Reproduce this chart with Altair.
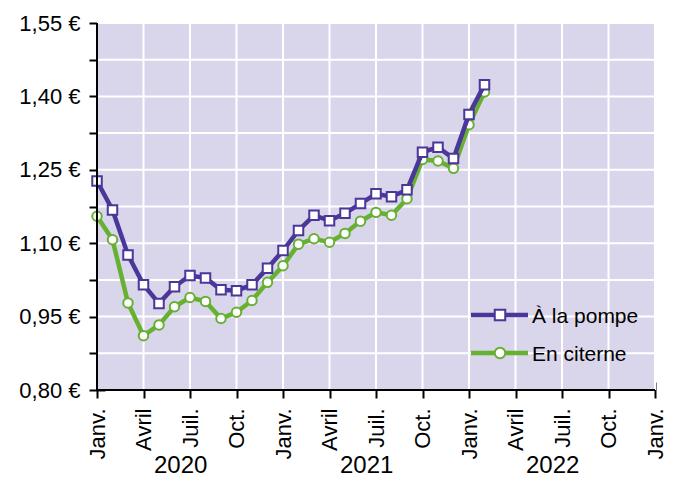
import altair as alt
import pandas as pd

# ---- data ----
dates = ["2020-01", "2020-02", "2020-03", "2020-04", "2020-05", "2020-06",
         "2020-07", "2020-08", "2020-09", "2020-10", "2020-11", "2020-12",
         "2021-01", "2021-02", "2021-03", "2021-04", "2021-05", "2021-06",
         "2021-07", "2021-08", "2021-09", "2021-10", "2021-11", "2021-12",
         "2022-01", "2022-02"]
pompe = [1.227, 1.168, 1.076, 1.015, 0.977, 1.011, 1.034, 1.029, 1.005, 1.003,
         1.015, 1.049, 1.085, 1.126, 1.157, 1.146, 1.161, 1.181, 1.201, 1.195,
         1.209, 1.286, 1.296, 1.273, 1.363, 1.424]
citerne = [1.155, 1.107, 0.978, 0.911, 0.933, 0.970, 0.989, 0.981, 0.946, 0.959,
           0.983, 1.020, 1.054, 1.098, 1.109, 1.102, 1.120, 1.145, 1.163, 1.157,
           1.191, 1.271, 1.268, 1.253, 1.342, 1.409]
series_names = ["À la pompe", "En citerne"]
month_labels = ["Janv.", "", "", "Avril", "", "", "Juil.", "", "", "Oct.", "", ""]
years = ["2020", "2021", "2022"]
x_ticks = list(range(0, 37, 3))
y_ticks = [0.80, 0.875, 0.95, 1.025, 1.10, 1.175, 1.25, 1.325, 1.40, 1.475, 1.55]

# ---- style ----
W, H = 558, 367
PURPLE = "#4b3699"
GREEN = "#66b032"
BG = "#d9d5ea"
FONT = "Liberation Sans"


def month_index(d):
    y, m = d.split("-")
    return (int(y) - 2020) * 12 + int(m) - 1


m_idx = [month_index(d) for d in dates]
df_p = pd.DataFrame({"m": m_idx, "v": pompe})
df_c = pd.DataFrame({"m": m_idx, "v": citerne})

x_scale = alt.Scale(domain=[0, 36], nice=False, zero=False)
y_scale = alt.Scale(domain=[0.80, 1.55], nice=False, zero=False)

label_js = "[" + ",".join("'%s'" % s for s in month_labels) + "]"
x_axis = alt.Axis(
    values=x_ticks, title=None, grid=False, domain=False,
    labelExpr=label_js + "[datum.value % 12]",
    labelAngle=270, labelFontSize=22, labelColor="black", labelFont=FONT,
    tickSize=16, tickWidth=2, tickColor="black", offset=-8, labelPadding=10,
    labelOverlap=False, labelFlush=False, labelBound=False,
)
y_axis = alt.Axis(
    values=y_ticks, title=None, grid=False, domain=False,
    labelExpr="round((datum.value - 0.8) / 0.075) % 2 == 0 ? replace(format(datum.value, '.2f'), '.', ',') + ' €' : ''",
    labelFontSize=22, labelColor="black", labelFont=FONT,
    tickSize=16, tickWidth=2, tickColor="black", offset=-8, labelPadding=9,
    labelOverlap=False, labelFlush=False, labelBound=False,
)

X = alt.X("m:Q", scale=x_scale, axis=x_axis)
Y = alt.Y("v:Q", scale=y_scale, axis=y_axis)

one = pd.DataFrame({"a": [0]})

# plot background
bg = alt.Chart(one).mark_rect(color=BG).encode(
    x=alt.value(0), x2=alt.value(W), y=alt.value(0), y2=alt.value(H))

# grid
grid_v = alt.Chart(pd.DataFrame({"m": x_ticks})).mark_rule(color="white", strokeWidth=2).encode(
    x=X, y=alt.value(0), y2=alt.value(H))
grid_h = alt.Chart(pd.DataFrame({"v": y_ticks})).mark_rule(color="white", strokeWidth=2).encode(
    y=Y, x=alt.value(0), x2=alt.value(W))


def series(df, color, shape):
    line = alt.Chart(df).mark_line(color=color, strokeWidth=4.5).encode(x=X, y=Y)
    pts = alt.Chart(df).mark_point(shape=shape, filled=True, fill="white", stroke=color,
                                   strokeWidth=2, size=90, opacity=1).encode(x=X, y=Y)
    return line + pts


green = series(df_c, GREEN, "circle")
purple = series(df_p, PURPLE, "square")

# axis lines
dom_y = alt.Chart(one).mark_rule(color="black", strokeWidth=2).encode(
    x=alt.value(0), y=alt.value(0), y2=alt.value(H))
dom_x = alt.Chart(one).mark_rule(color="black", strokeWidth=2).encode(
    x=alt.value(0), x2=alt.value(W), y=alt.value(H))

# year labels
yr_df = pd.DataFrame({"label": years, "m": [(int(y) - 2020) * 12 + 5.4 for y in years]})
yr_text = alt.Chart(yr_df).mark_text(fontSize=24, font=FONT, color="black", align="center",
                                     baseline="alphabetic").encode(
    x=alt.X("m:Q", scale=x_scale), y=alt.value(H + 83), text="label:N")

# legend
def legend_item(label, color, shape, yy):
    d = pd.DataFrame({"label": [label]})
    ln = alt.Chart(d).mark_rule(color=color, strokeWidth=4.5).encode(
        x=alt.value(374), x2=alt.value(431), y=alt.value(yy))
    sy = alt.Chart(d).mark_point(shape=shape, filled=True, fill="white", stroke=color,
                                 strokeWidth=2, size=110, opacity=1).encode(
        x=alt.value(403), y=alt.value(yy))
    tx = alt.Chart(d).mark_text(fontSize=21, font=FONT, color="black", align="left",
                                baseline="middle").encode(
        x=alt.value(435), y=alt.value(yy + 2), text="label:N")
    return ln + sy + tx


leg1 = legend_item(series_names[0], PURPLE, "square", 292)
leg2 = legend_item(series_names[1], GREEN, "circle", 330)

chart = alt.layer(bg, grid_v, grid_h, green, purple, dom_y, dom_x, yr_text, leg1, leg2).properties(
    width=W, height=H,
    autosize=alt.AutoSizeParams(type="none"),
    padding={"left": 89, "top": 15, "right": 11, "bottom": 89},
).configure_view(strokeWidth=0).configure(font=FONT)

chart.save("out.html", embed_options={"renderer": "svg", "actions": False})
